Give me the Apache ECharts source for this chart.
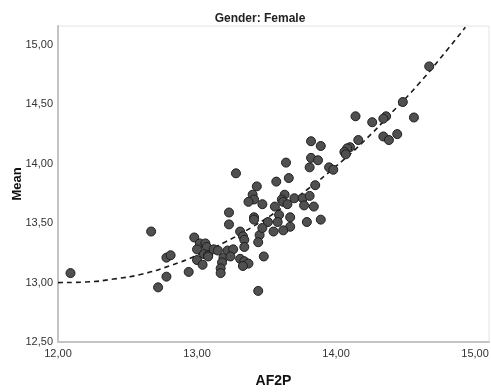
<!DOCTYPE html>
<html>
<head>
<meta charset="utf-8">
<script src="https://cdn.jsdelivr.net/npm/echarts@6/dist/echarts.min.js"></script>
<style>
  html, body { margin: 0; padding: 0; background: #fff; }
  #chart { width: 491px; height: 392px; }
</style>
</head>
<body>
<div id="chart"></div>
<script>
// AF2P (x) values of the scatter points
const af2p = [
  12.09, 12.67, 12.72, 12.78, 12.81, 12.78, 12.94, 12.98, 13.02, 13.06,
  13.07, 13.00, 13.05, 13.08, 13.00, 13.04, 13.12, 13.15, 13.08, 13.19,
  13.18, 13.17, 13.17, 13.22, 13.26, 13.24, 13.31, 13.34, 13.37, 13.33,
  13.31, 13.33, 13.34, 13.45, 13.44, 13.34, 13.48, 13.44, 13.28, 13.43,
  13.40, 13.41, 13.37, 13.47, 13.23, 13.23, 13.41, 13.41, 13.51, 13.47,
  13.82, 13.89, 13.64, 13.82, 13.87, 13.81, 13.95, 13.98, 13.66, 13.57,
  13.85, 13.63, 13.61, 13.62, 13.70, 13.76, 13.81, 13.56, 13.65, 13.77,
  13.84, 13.59, 13.67, 13.58, 13.67, 13.79, 13.89, 13.55, 13.62, 14.14,
  14.48, 14.36, 14.34, 14.26, 14.34, 14.38, 14.44, 14.16, 14.10, 14.08,
  14.06, 14.07, 14.67, 14.56
];
// Mean (y) values, same order
const mean = [
  13.08, 13.43, 12.96, 13.21, 13.23, 13.05, 13.09, 13.38, 13.33, 13.33,
  13.30, 13.28, 13.24, 13.23, 13.19, 13.15, 13.28, 13.27, 13.22, 13.21,
  13.17, 13.12, 13.08, 13.27, 13.28, 13.22, 13.20, 13.18, 13.16, 13.14,
  13.43, 13.39, 13.36, 13.40, 13.34, 13.30, 13.22, 12.93, 13.92, 13.81,
  13.74, 13.70, 13.68, 13.66, 13.59, 13.49, 13.55, 13.53, 13.51, 13.46,
  14.19, 14.15, 14.01, 14.05, 14.03, 13.97, 13.97, 13.95, 13.88, 13.85,
  13.82, 13.74, 13.70, 13.68, 13.71, 13.71, 13.73, 13.64, 13.66, 13.65,
  13.64, 13.57, 13.55, 13.51, 13.47, 13.51, 13.53, 13.43, 13.44, 14.40,
  14.52, 14.40, 14.38, 14.35, 14.23, 14.20, 14.25, 14.20, 14.14, 14.13,
  14.10, 14.08, 14.82, 14.39
];
// fitted curve
const fitX = [12.0, 12.2, 12.4, 12.6, 12.8, 13.0, 13.2, 13.4, 13.6, 13.8, 14.0, 14.2, 14.4, 14.6, 14.8, 14.93];
const fitY = [13.00, 13.005, 13.03, 13.07, 13.14, 13.23, 13.34, 13.47, 13.62, 13.79, 13.98, 14.19, 14.43, 14.68, 14.96, 15.15];

const xTicks = [12, 13, 14, 15];
const yTicks = [12.5, 13, 13.5, 14, 14.5, 15];

const fmt = (v) => v.toFixed(2).replace('.', ',');

const chart = echarts.init(document.getElementById('chart'));

chart.setOption({
  animation: false,
  title: {
    text: 'Gender: Female',
    left: 255,
    textAlign: 'center',
    top: 8,
    textStyle: { fontFamily: 'Liberation Sans', fontSize: 12, fontWeight: 'bold', color: '#222' }
  },
  grid: {
    left: 58, right: 2, top: 26, bottom: 50,
    containLabel: false,
    outerBoundsMode: 'none',
    show: true, borderColor: '#e4e4e4', borderWidth: 1
  },
  xAxis: {
    type: 'value',
    min: 12, max: 15.1, interval: 1,
    name: 'AF2P',
    nameLocation: 'middle',
    nameGap: 32,
    nameMoveOverlap: false,
    nameTextStyle: { fontFamily: 'Liberation Sans', fontSize: 14, fontWeight: 'bold', color: '#111' },
    axisLine: { lineStyle: { color: '#c4c4c4', width: 2 } },
    axisTick: { show: false },
    splitLine: { show: false },
    axisLabel: {
      fontFamily: 'Liberation Sans', fontSize: 11, color: '#333', margin: 6,
      showMaxLabel: false,
      formatter: (v) => (xTicks.includes(v) ? fmt(v) : '')
    }
  },
  yAxis: {
    type: 'value',
    min: 12.5, max: 15.16, interval: 0.5,
    name: 'Mean',
    nameLocation: 'middle',
    nameRotate: 90,
    nameGap: 34,
    nameMoveOverlap: false,
    nameTextStyle: { fontFamily: 'Liberation Sans', fontSize: 13, fontWeight: 'bold', color: '#111' },
    axisLine: { show: true, lineStyle: { color: '#c4c4c4', width: 2 } },
    axisTick: { show: false },
    splitLine: { show: false },
    axisLabel: {
      fontFamily: 'Liberation Sans', fontSize: 11, color: '#333', margin: 5,
      showMaxLabel: false,
      formatter: (v) => (yTicks.includes(v) ? fmt(v) : '')
    }
  },
  series: [
    {
      type: 'line',
      data: fitX.map((x, i) => [x, fitY[i]]),
      smooth: true,
      showSymbol: false,
      silent: true,
      lineStyle: { color: '#1a1a1a', width: 1.6, type: [5, 4] },
      z: 1
    },
    {
      type: 'scatter',
      data: af2p.map((x, i) => [x, mean[i]]),
      symbolSize: 9,
      itemStyle: { color: '#505050', borderColor: '#1e1e1e', borderWidth: 1, opacity: 1 },
      z: 2
    }
  ]
});
</script>
</body>
</html>
